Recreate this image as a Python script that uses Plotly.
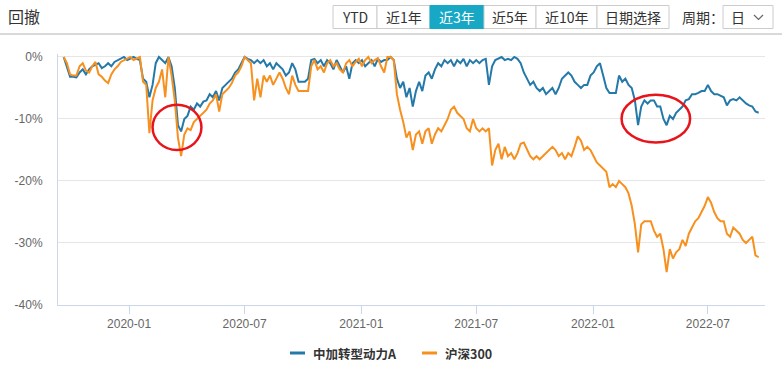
import pandas as pd
import plotly.graph_objects as go

# ---------------- data ----------------
dates = pd.date_range("2019-09-20", periods=220, freq="5D")

fund_name = "中加转型动力A"
bench_name = "沪深300"

fund_dd = [
    0, -1.5, -3.2, -3.2, -3.3, -2.5, -2.0, -2.8, -2.0, -1.5,
    -1.2, -1.0, -1.8, -1.5, -1.0, -1.5, -0.8, -0.5, -0.3, 0,
    -0.5, -0.2, 0, -0.3, -0.5, -3.5, -4.0, -6.5, -4.5, -1.0,
    0, -0.5, -1.0, 0, -1.5, -5.0, -11.0, -12.0, -10.0, -9.5,
    -8.0, -8.5, -7.5, -8.0, -7.2, -7.0, -6.0, -6.5, -5.5, -7.0,
    -5.0, -4.5, -4.0, -3.5, -2.5, -2.0, -1.0, 0, -0.3, -0.5,
    -1.0, -0.5, -1.0, -0.5, -1.5, -1.0, -2.0, -1.0, -1.5, -2.0,
    -3.0, -2.5, -1.0, -2.0, -4.0, -4.0, -4.0, -3.5, -0.5, -0.3,
    -1.0, -0.5, -1.5, -0.5, -1.0, -2.0, -0.5, -1.5, -2.5, -1.5,
    -3.5, -1.0, -0.5, -1.0, -0.5, -1.5, -1.0, -0.5, -1.5, -0.3,
    -0.8, -0.5, -0.5, 0, -0.5, -3.5, -5.0, -4.0, -6.5, -5.0,
    -8.0, -5.5, -4.0, -5.5, -3.0, -2.5, -3.5, -2.0, -1.0, -1.5,
    -0.5, -1.0, -0.5, -1.5, -0.5, -1.0, -0.3, -1.5, -0.5, -1.0,
    -0.5, -1.0, -0.5, -0.3, -4.5, -1.5, -0.5, -0.3, 0, -0.5,
    -0.3, -0.5, 0, -0.3, -1.0, -2.5, -3.5, -4.5, -4.0, -5.0,
    -5.5, -5.0, -6.0, -5.5, -5.0, -6.0, -5.0, -3.5, -3.0, -2.5,
    -3.0, -4.0, -4.5, -5.0, -4.5, -4.5, -3.0, -2.5, -1.5, -1.0,
    -3.0, -5.0, -5.8, -5.8, -5.8, -3.0, -4.0, -3.5, -4.5, -5.0,
    -7.0, -11.0, -8.0, -7.0, -7.5, -7.0, -7.0, -8.0, -8.0, -10.0,
    -11.0, -9.5, -10.0, -9.0, -8.5, -8.0, -7.0, -6.8, -6.0, -6.0,
    -5.8, -5.5, -5.5, -4.5, -5.5, -6.0, -6.0, -6.3, -6.5, -7.8,
    -7.0, -6.8, -7.0, -6.5, -7.0, -7.5, -7.8, -8.0, -8.8, -9.0,
]

bench_dd = [
    0, -1.0, -2.8, -3.0, -3.0, -1.5, -1.0, -2.2, -2.5, -1.5,
    -0.8, -2.8, -3.2, -3.8, -4.2, -2.8, -2.0, -1.5, -0.8, -0.5,
    -0.3, 0, -0.5, -0.2, 0, -4.0, -4.5, -12.3, -7.0, -5.0,
    -4.0, -2.0, -6.5, 0, -3.0, -7.0, -13.0, -16.0, -12.5, -11.5,
    -11.8, -10.5, -10.0, -9.5, -9.0, -8.5, -7.5, -7.0, -6.0, -8.8,
    -6.0, -5.5, -5.0, -4.2, -3.0, -2.5, -1.5, 0, -0.5, -1.0,
    -7.0, -3.5, -6.5, -3.0, -4.0, -3.0, -4.5, -3.5, -2.5, -3.5,
    -5.0, -6.0, -3.0, -4.5, -5.5, -5.5, -5.5, -5.5, -1.5, -0.5,
    -2.0, -1.5, -2.5, -1.0, -0.5, -1.5, -1.0, -2.0, -2.5, -1.0,
    -0.5, -1.5, -0.8, -0.3, -1.5, -0.5, 0, -1.0, -0.5, -0.2,
    -1.5, -2.5, 0, 0, -0.5, -6.0, -8.5, -10.5, -13.0, -12.0,
    -15.0, -12.5, -12.0, -14.0, -12.0, -11.5, -14.0, -12.5, -11.5, -12.0,
    -11.0, -10.0, -8.5, -8.0, -9.0, -9.5, -10.0, -11.5, -12.0, -10.0,
    -11.5, -12.0, -11.5, -12.0, -11.5, -17.5, -15.0, -14.0, -16.5, -14.5,
    -16.0, -15.5, -16.5, -15.5, -14.0, -13.8, -15.0, -16.0, -16.5, -16.0,
    -16.5, -16.0, -15.5, -15.0, -14.5, -15.0, -16.0, -15.5, -16.5, -15.5,
    -16.0, -14.5, -12.8, -13.5, -15.0, -14.5, -15.0, -16.0, -17.0, -17.5,
    -18.0, -18.5, -21.0, -20.5, -21.0, -20.0, -20.5, -21.0, -22.0, -24.0,
    -27.0, -31.5, -27.0, -26.5, -26.5, -26.5, -28.0, -29.0, -28.5, -31.0,
    -34.7, -31.0, -32.5, -31.5, -31.0, -29.5, -30.5, -28.5, -27.5, -26.5,
    -26.0, -25.0, -24.0, -22.6, -23.5, -25.0, -26.0, -26.5, -26.5, -28.5,
    -29.0, -27.5, -28.0, -28.5, -29.5, -30.0, -29.5, -29.0, -32.0, -32.3,
]

y_ticks = [0, -10, -20, -30, -40]
y_tick_text = ["0%", "-10%", "-20%", "-30%", "-40%"]
x_ticks = ["2020-01-01", "2020-07-01", "2021-01-01", "2021-07-01", "2022-01-01", "2022-07-01"]
x_tick_text = ["2020-01", "2020-07", "2021-01", "2021-07", "2022-01", "2022-07"]

buttons = ["YTD", "近1年", "近3年", "近5年", "近10年", "日期选择"]
active_button = "近3年"

# ---------------- layout helpers ----------------
W, H = 782, 368
L, R, T, B = 58, 765, 54, 305
def px(x):
    return (x - L) / (R - L)
def py(y):
    return (B - y) / (B - T)

BLUE = "#2479a9"
ORANGE = "#f7901e"
CJK = "Noto Sans CJK SC"

fig = go.Figure()
fig.add_trace(go.Scatter(x=dates, y=fund_dd, mode="lines", name=fund_name,
                         line=dict(color=BLUE, width=2)))
fig.add_trace(go.Scatter(x=dates, y=bench_dd, mode="lines", name=bench_name,
                         line=dict(color=ORANGE, width=2)))

shapes = []
annotations = []

# title + separator
annotations.append(dict(x=px(6), y=py(16), xref="paper", yref="paper", text="回撤",
                        showarrow=False, xanchor="left", yanchor="middle",
                        font=dict(family=CJK, size=16, color="#333333")))
shapes.append(dict(type="line", xref="paper", yref="paper", x0=px(0), x1=px(782),
                   y0=py(34), y1=py(34), line=dict(color="#cccccc", width=1.5)))

# buttons
edges = [333, 377, 430, 484, 536, 597, 669]
for i, lab in enumerate(buttons):
    x0, x1 = edges[i], edges[i + 1]
    active = lab == active_button
    shapes.append(dict(type="rect", xref="paper", yref="paper",
                       x0=px(x0), x1=px(x1), y0=py(5.5), y1=py(28.5),
                       fillcolor="#17a8c6" if active else "white",
                       line=dict(color="#17a8c6" if active else "#cccccc", width=1)))
    annotations.append(dict(x=px((x0 + x1) / 2), y=py(17), xref="paper", yref="paper",
                            text=lab, showarrow=False, xanchor="center", yanchor="middle",
                            font=dict(family=CJK, size=14,
                                      color="white" if active else "#333333")))

annotations.append(dict(x=px(680), y=py(17), xref="paper", yref="paper", text="周期：",
                        showarrow=False, xanchor="left", yanchor="middle",
                        font=dict(family=CJK, size=14, color="#333333")))
shapes.append(dict(type="rect", xref="paper", yref="paper", x0=px(723), x1=px(773),
                   y0=py(5.5), y1=py(28.5), fillcolor="white",
                   line=dict(color="#cccccc", width=1)))
annotations.append(dict(x=px(738), y=py(17), xref="paper", yref="paper", text="日",
                        showarrow=False, xanchor="center", yanchor="middle",
                        font=dict(family=CJK, size=14, color="#333333")))
shapes.append(dict(type="path", xref="paper", yref="paper",
                   path=f"M {px(754)} {py(15)} L {px(758.5)} {py(19.5)} L {px(763)} {py(15)}",
                   line=dict(color="#666666", width=1.2)))

# legend (manual)
for (x0, x1, tx, col, name) in [(290, 305, 311, BLUE, fund_name), (422, 437, 443, ORANGE, bench_name)]:
    shapes.append(dict(type="line", xref="paper", yref="paper", x0=px(x0), x1=px(x1),
                       y0=py(353), y1=py(353), line=dict(color=col, width=3)))
    annotations.append(dict(x=px(tx), y=py(353), xref="paper", yref="paper",
                            text=f"<b>{name}</b>", showarrow=False, xanchor="left",
                            yanchor="middle",
                            font=dict(family=CJK, size=12.5, color="#333333")))

# red highlight ellipses
shapes.append(dict(type="circle", xref="x", yref="y", x0="2020-02-07", x1="2020-04-24",
                   y0=-15.0, y1=-7.7, line=dict(color="#e8141b", width=2.5)))
shapes.append(dict(type="circle", xref="x", yref="y", x0="2022-02-15", x1="2022-06-03",
                   y0=-13.8, y1=-6.1, line=dict(color="#e8141b", width=2.5)))

fig.update_layout(
    width=W, height=H,
    margin=dict(l=L, r=W - R, t=T, b=H - B, pad=0),
    paper_bgcolor="white", plot_bgcolor="white",
    showlegend=False,
    shapes=shapes, annotations=annotations,
    xaxis=dict(type="date", range=["2019-09-11", "2022-09-29"],
               tickvals=x_ticks, ticktext=x_tick_text,
               showgrid=False, zeroline=False,
               showline=True, linecolor="#ccd6eb", linewidth=1,
               ticks="outside", ticklen=8, tickcolor="#ccd6eb",
               tickfont=dict(family="Liberation Sans", size=12, color="#666666")),
    yaxis=dict(range=[-40, 0.48], tickvals=y_ticks, ticktext=y_tick_text,
               showgrid=True, gridcolor="#e6e6e6", gridwidth=1, zeroline=False,
               showline=True, linecolor="#ccd6eb", linewidth=1,
               ticks="", ticklabelstandoff=12,
               tickfont=dict(family="Liberation Sans", size=12, color="#666666")),
)

fig.write_html("out.html", config={"displayModeBar": False},
               post_script="document.body.style.margin='0';document.body.style.overflow='hidden';")
